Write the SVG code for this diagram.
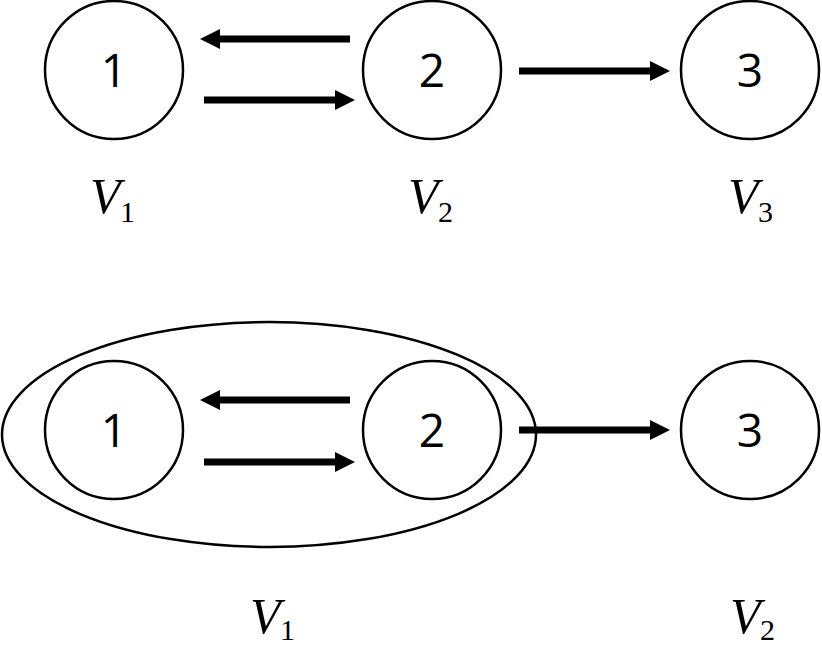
<svg xmlns="http://www.w3.org/2000/svg" width="822" height="647" viewBox="0 0 822 647">
<style>
.node{fill:#fff;stroke:#000;stroke-width:2.5}
.num{font-family:"Open Sans","Liberation Sans",sans-serif;font-size:46px;fill:#000;text-anchor:middle}
.edge{stroke:#000;stroke-width:7;fill:none}
.lbl{font-family:"Liberation Serif",serif;fill:#000}
.v{font-style:italic;font-size:50px}
.sub{font-size:30px}
</style>
<defs>
<marker id="ah" viewBox="0 0 20 20" refX="0" refY="10" markerWidth="20" markerHeight="20" markerUnits="userSpaceOnUse" orient="auto">
<path d="M0,0 L20,10 L0,20 Z" fill="#000"/>
</marker>
</defs>
<g id="group-v1">
<ellipse cx="269" cy="434.5" rx="267" ry="112.5" fill="none" stroke="#000" stroke-width="2.5"/>
</g>
<g id="top-n1"><circle class="node" cx="114" cy="70" r="69"/><text class="num" x="114" y="87">1</text></g>
<g id="top-n2"><circle class="node" cx="432" cy="70" r="69"/><text class="num" x="432" y="87">2</text></g>
<g id="top-n3"><circle class="node" cx="750" cy="70" r="69"/><text class="num" x="750" y="87">3</text></g>
<g id="bot-n1"><circle class="node" cx="114" cy="430" r="69"/><text class="num" x="114" y="447">1</text></g>
<g id="bot-n2"><circle class="node" cx="432" cy="430" r="69"/><text class="num" x="432" y="447">2</text></g>
<g id="bot-n3"><circle class="node" cx="750" cy="430" r="69"/><text class="num" x="750" y="447">3</text></g>
<g id="connectors">
<line class="edge" x1="350" y1="39" x2="220" y2="39" marker-end="url(#ah)"/>
<line class="edge" x1="204" y1="100" x2="335" y2="100" marker-end="url(#ah)"/>
<line class="edge" x1="519" y1="71" x2="650" y2="71" marker-end="url(#ah)"/>
<line class="edge" x1="350" y1="400" x2="220" y2="400" marker-end="url(#ah)"/>
<line class="edge" x1="204" y1="462" x2="335" y2="462" marker-end="url(#ah)"/>
<line class="edge" x1="519" y1="430" x2="650" y2="430" marker-end="url(#ah)"/>
</g>
<g id="labels">
<text class="lbl" x="90" y="213"><tspan class="v">V</tspan><tspan class="sub" x="120" y="222">1</tspan></text>
<text class="lbl" x="408" y="213"><tspan class="v">V</tspan><tspan class="sub" x="438" y="222">2</tspan></text>
<text class="lbl" x="728" y="213"><tspan class="v">V</tspan><tspan class="sub" x="758" y="222">3</tspan></text>
<text class="lbl" x="250" y="633"><tspan class="v">V</tspan><tspan class="sub" x="280" y="640">1</tspan></text>
<text class="lbl" x="730" y="633"><tspan class="v">V</tspan><tspan class="sub" x="760" y="640">2</tspan></text>
</g>
</svg>
